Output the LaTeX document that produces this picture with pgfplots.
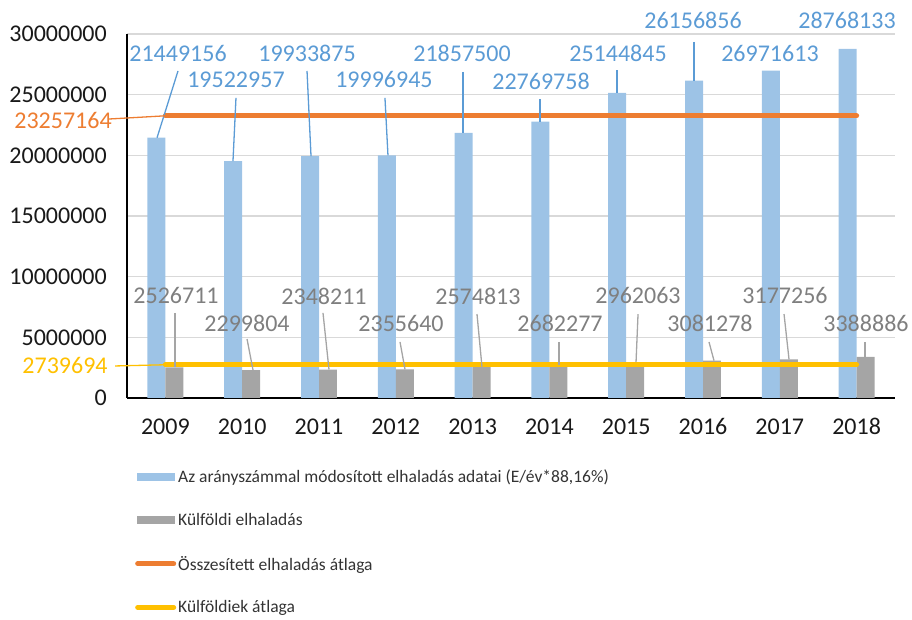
\documentclass[border=0pt]{standalone}
\usepackage{fontspec}
\setmainfont{Carlito}
\usepackage{pgfplots}
\usepackage{pgfplotstable}
\pgfplotsset{compat=1.18}
\definecolor{barblue}{HTML}{9DC3E6}
\definecolor{lblblue}{HTML}{5B9BD5}
\definecolor{bargray}{HTML}{A5A5A5}
\definecolor{lblgray}{HTML}{7F7F7F}
\definecolor{avgorange}{HTML}{ED7D31}
\definecolor{avgyellow}{HTML}{FFC000}
\definecolor{gridgray}{HTML}{D9D9D9}
\pgfplotstableread{
x blue gray
0 21449156 2526711
1 19522957 2299804
2 19933875 2348211
3 19996945 2355640
4 21857500 2574813
5 22769758 2682277
6 25144845 2962063
7 26156856 3081278
8 26971613 3177256
9 28768133 3388886
}\data
\begin{document}
\begin{tikzpicture}[x=1pt,y=1pt]
\useasboundingbox (0,0) rectangle (912,620);
\begin{axis}[
  at={(127pt,222pt)}, anchor=south west,
  scale only axis, width=768pt, height=364pt,
  xmin=-0.5, xmax=9.5, ymin=0, ymax=30000000,
  axis x line*=bottom, axis y line*=left,
  axis line style={line width=2pt, black},
  xtick={0,1,2,3,4,5,6,7,8,9},
  xticklabels={2009,2010,2011,2012,2013,2014,2015,2016,2017,2018},
  ytick={0,5000000,10000000,15000000,20000000,25000000,30000000},
  ymajorgrids, grid style={gridgray, line width=1.3pt},
  major tick length=0pt,
  scaled y ticks=false,
  yticklabel style={/pgf/number format/fixed, /pgf/number format/1000 sep={}, inner sep=0pt, xshift=-20pt},
  xticklabel style={inner sep=0pt, anchor=base, yshift=-37pt},
  /pgf/number format/assume math mode=true,
  ticklabel style={font=\fontsize{24}{24}\selectfont, text=black!90},
  clip=false,
  legend style={at={(axis description cs:0.0104,-0.192)}, anchor=north west, draw=none, fill=none,
    font=\fontsize{17.5}{17.5}\selectfont, text=black!80, row sep=25pt, inner sep=0pt,
    nodes={inner sep=2pt}},
  legend cell align=left,
]
\addplot[ybar, bar width=0.234, bar shift=-0.117, fill=barblue, draw=none,
  legend image code/.code={\fill[barblue] (0pt,-4pt) rectangle (38pt,4pt);}]
  table[x=x,y=blue]{\data};
\addlegendentry{Az arányszámmal módosított elhaladás adatai (E/év*88,16\%)}
\addplot[ybar, bar width=0.234, bar shift=0.117, fill=bargray, draw=none,
  legend image code/.code={\fill[bargray] (0pt,-4pt) rectangle (38pt,4pt);}]
  table[x=x,y=gray]{\data};
\addlegendentry{Külföldi elhaladás}
\addplot[avgorange, line width=5pt, line cap=round,
  legend image code/.code={\draw[avgorange, line width=5pt, line cap=round] (1pt,0pt) -- (37pt,0pt);}]
  coordinates {(0,23257164) (9,23257164)};
\addlegendentry{Összesített elhaladás átlaga}
\addplot[avgyellow, line width=5pt, line cap=round,
  legend image code/.code={\draw[avgyellow, line width=5pt, line cap=round] (1pt,0pt) -- (37pt,0pt);}]
  coordinates {(0,2739694) (9,2739694)};
\addlegendentry{Külföldiek átlaga}

% blue data labels
\begin{scope}[every node/.style={font=\fontsize{24}{24}\selectfont, text=lblblue}]
\node at (axis cs:0.164,28430000) {21449156};
\node at (axis cs:0.919,26210000) {19522957};
\node at (axis cs:1.844,28430000) {19933875};
\node at (axis cs:2.846,26210000) {19996945};
\node at (axis cs:3.862,28430000) {21857500};
\node at (axis cs:4.891,26130000) {22769758};
\node at (axis cs:5.893,28430000) {25144845};
\node at (axis cs:6.870,31150000) {26156856};
\node at (axis cs:7.872,28430000) {26971613};
\node at (axis cs:8.875,31150000) {28768133};
\end{scope}
\begin{scope}[lblblue, line width=1.3pt]
\draw (axis cs:0.164,26950000) -- (axis cs:-0.109,21449156);
\draw (axis cs:0.919,24730000) -- (axis cs:0.880,19522957);
\draw (axis cs:1.844,26950000) -- (axis cs:1.896,19933875);
\draw (axis cs:2.859,24730000) -- (axis cs:2.898,19996945);
\draw (axis cs:3.875,26870000) -- (axis cs:3.875,21857500);
\draw (axis cs:4.878,24640000) -- (axis cs:4.878,22769758);
\draw (axis cs:5.880,27030000) -- (axis cs:5.880,25144845);
\draw (axis cs:6.883,29340000) -- (axis cs:6.883,26156856);
\end{scope}
% gray data labels
\begin{scope}[every node/.style={font=\fontsize{24}{24}\selectfont, text=lblgray}]
\node at (axis cs:0.138,8410000) {2526711};
\node at (axis cs:1.063,6180000) {2299804};
\node at (axis cs:2.065,8410000) {2348211};
\node at (axis cs:3.068,6180000) {2355640};
\node at (axis cs:4.070,8410000) {2574813};
\node at (axis cs:5.138,6180000) {2682277};
\node at (axis cs:6.154,8410000) {2962063};
\node at (axis cs:7.091,6180000) {3081278};
\node at (axis cs:8.068,8410000) {3177256};
\node at (axis cs:9.122,6180000) {3388886};
\end{scope}
\begin{scope}[bargray, line width=1.3pt]
\draw (axis cs:0.125,7010000) -- (axis cs:0.125,2526711);
\draw (axis cs:1.063,4860000) -- (axis cs:1.141,2299804);
\draw (axis cs:2.052,7010000) -- (axis cs:2.130,2348211);
\draw (axis cs:3.055,4620000) -- (axis cs:3.120,2355640);
\draw (axis cs:4.057,6920000) -- (axis cs:4.122,2574813);
\draw (axis cs:5.125,4620000) -- (axis cs:5.125,2682277);
\draw (axis cs:6.154,6920000) -- (axis cs:6.128,2962063);
\draw (axis cs:7.078,4620000) -- (axis cs:7.143,3081278);
\draw (axis cs:8.055,6920000) -- (axis cs:8.120,3177256);
\draw (axis cs:9.109,4620000) -- (axis cs:9.109,3388886);
\end{scope}
% average labels
\node[font=\fontsize{24}{24}\selectfont, text=avgorange] at (axis cs:-1.333,22910000) {23257164};
\draw[avgorange, line width=1.3pt] (axis cs:-0.742,22990000) -- (axis cs:0,23257164);
\node[font=\fontsize{24}{24}\selectfont, text=avgyellow] at (axis cs:-1.307,2640000) {2739694};
\draw[avgyellow, line width=1.3pt] (axis cs:-0.656,2640000) -- (axis cs:0,2739694);
\end{axis}
\end{tikzpicture}
\end{document}
